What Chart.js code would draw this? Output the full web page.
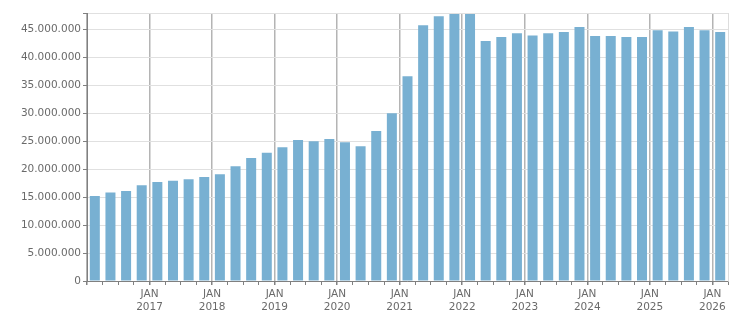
<!DOCTYPE html>
<html>
<head>
<meta charset="utf-8">
<script src="https://cdn.jsdelivr.net/npm/chart.js@4/dist/chart.umd.min.js"></script>
<style>
  html, body { margin: 0; padding: 0; background: #fff; }
  #wrap { width: 751px; height: 313px; position: relative; }
</style>
</head>
<body>
<div id="wrap"><canvas id="c"></canvas></div>
<script>
// quarterly values, Q1 2016 .. Q1 2026
const startYear = 2016;
const values = [
  15.2e6, 15.8e6, 16.1e6, 17.1e6,
  17.7e6, 17.9e6, 18.2e6, 18.6e6,
  19.1e6, 20.5e6, 22.0e6, 22.9e6,
  23.9e6, 25.2e6, 25.0e6, 25.4e6,
  24.8e6, 24.1e6, 26.8e6, 30.0e6,
  36.6e6, 45.7e6, 47.3e6, 47.7e6,
  47.7e6, 42.9e6, 43.6e6, 44.3e6,
  43.9e6, 44.3e6, 44.5e6, 45.4e6,
  43.8e6, 43.8e6, 43.6e6, 43.6e6,
  44.8e6, 44.6e6, 45.4e6, 44.8e6,
  44.5e6
];
const yTicks = [0, 5e6, 10e6, 15e6, 20e6, 25e6, 30e6, 35e6, 40e6, 45e6];
const yMax = 47.9e6;

const fmt = v => String(Math.round(v)).replace(/\B(?=(\d{3})+(?!\d))/g, '.');
const nQ = values.length;

new Chart(document.getElementById('c').getContext('2d'), {
  type: 'bar',
  data: {
    datasets: [{
      data: values.map((v, i) => ({ x: i + 0.5, y: v })),
      backgroundColor: '#78b0d2',
      borderWidth: 0,
      barPercentage: 0.64,
      categoryPercentage: 1
    }]
  },
  options: {
    responsive: true, maintainAspectRatio: false, animation: false,
    layout: { padding: { top: 13, right: 23, left: 0, bottom: 0 } },
    plugins: { legend: { display: false }, tooltip: { enabled: false } },
    scales: {
      x: {
        type: 'linear', min: 0, max: nQ, offset: false,
        afterFit: s => { s.height = 32; },
        border: { color: '#808080', width: 1 },
        grid: {
          offset: false,
          color: c => (c.tick && c.tick.value % 4 === 0) ? '#b4b4b4' : (c.tick && c.tick.value === nQ ? '#dddddd' : 'rgba(0,0,0,0)'),
          lineWidth: c => (c.tick && c.tick.value % 4 === 0) ? 1.5 : 1,
          tickColor: '#808080', tickLength: 4
        },
        ticks: {
          stepSize: 1, autoSkip: false, maxRotation: 0, padding: 3,
          color: '#6a6a6a', font: { family: 'DejaVu Sans', size: 10.5 },
          callback: v => (v % 4 === 0 && v > 0) ? ['JAN', String(startYear + v / 4)] : ''
        }
      },
      y: {
        min: 0, max: yMax,
        afterFit: s => { s.width = 87; },
        afterBuildTicks: s => { s.ticks = yTicks.concat([yMax]).map(v => ({ value: v })); },
        border: { color: '#808080', width: 1 },
        grid: { color: '#e0e0e0', tickColor: '#808080', tickLength: 4 },
        ticks: {
          padding: 2, color: '#6a6a6a', font: { family: 'DejaVu Sans', size: 10.5 },
          callback: v => yTicks.includes(v) ? fmt(v) : ''
        }
      }
    }
  }
});
</script>
</body>
</html>
